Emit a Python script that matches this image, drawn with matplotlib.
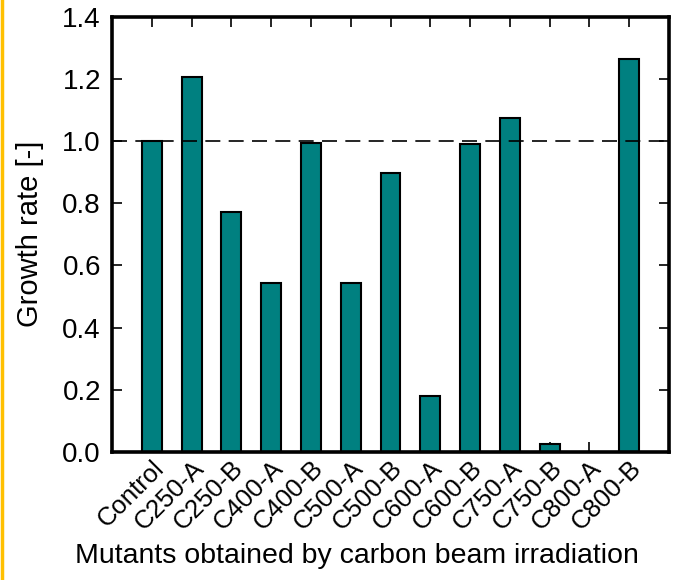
import matplotlib.pyplot as plt
import numpy as np

plt.rcParams['font.family'] = ['Liberation Sans', 'DejaVu Sans']

mutants = ['Control', 'C250-A', 'C250-B', 'C400-A', 'C400-B', 'C500-A', 'C500-B',
           'C600-A', 'C600-B', 'C750-A', 'C750-B', 'C800-A', 'C800-B']
growth = [1.0, 1.207, 0.772, 0.543, 0.994, 0.543, 0.897,
          0.179, 0.99, 1.074, 0.025, 0.0, 1.265]
yticks = [0.0, 0.2, 0.4, 0.6, 0.8, 1.0, 1.2, 1.4]

fig = plt.figure(figsize=(6.75, 5.8), dpi=100)
ax = fig.add_axes([112/675, 1 - 452/580, (669-112)/675, (452-16.6)/580])

x = np.arange(len(mutants))
ax.bar(x, growth, width=0.5, color='#008080', edgecolor='black', lw=1.5, zorder=2)
ax.axhline(1.0, color='black', lw=1.2, dashes=(9, 5), zorder=3)

ax.set_xlim(-1, len(mutants))
ax.set_ylim(0, 1.4)
ax.set_yticks(yticks)
ax.set_yticklabels([f'{v:.1f}' for v in yticks])
ax.set_xticks(x)
ax.set_xticklabels(mutants, rotation=45, ha='right', rotation_mode='anchor')

ax.tick_params(direction='in', length=7, width=1.2, top=True, right=True,
               labelsize=20, pad=8)
ax.tick_params(axis='x', labelsize=18.5, pad=3)
for s in ax.spines.values():
    s.set_linewidth(2.6)
    s.set_zorder(4)

ax.set_ylabel('Growth rate [-]', fontsize=21, labelpad=13)
fig.text(357/675, 1 - 556/580, 'Mutants obtained by carbon beam irradiation',
         ha='center', va='center', fontsize=20.5)

# orange side bar
fig.add_artist(plt.Line2D([1.5/675, 1.5/675], [0, 1], color='#FFC000', lw=2.5,
                          transform=fig.transFigure))

fig.savefig('out.png', dpi=100)
